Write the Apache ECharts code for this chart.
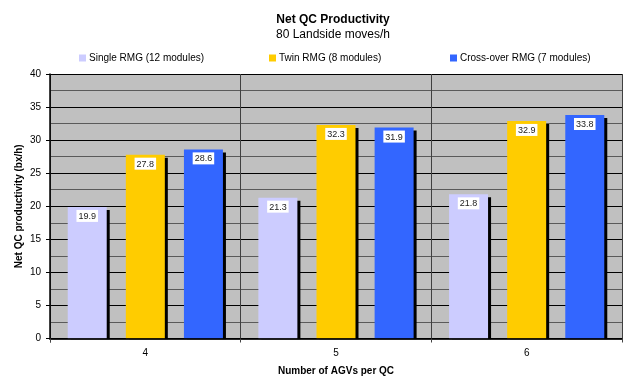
<!DOCTYPE html>
<html><head><meta charset="utf-8">
<script src="https://cdn.jsdelivr.net/npm/echarts@6/dist/echarts.min.js"></script>
<style>html,body{margin:0;padding:0;background:#fff}#c{width:623px;height:377px}</style>
</head><body><div id="c"></div>
<script>
const categories = ['4', '5', '6'];
const singleRMG = [19.9, 21.3, 21.8];
const twinRMG = [27.8, 32.3, 32.9];
const crossRMG = [28.6, 31.9, 33.8];
const seriesNames = ['Single RMG (12 modules)', 'Twin RMG (8 modules)', 'Cross-over RMG (7 modules)'];
const colors = ['#CCCCFF', '#FFCC00', '#3366FF'];
const FONT = 'Liberation Sans, Arial, sans-serif';

const chart = echarts.init(document.getElementById('c'), null, {renderer: 'canvas'});
function mkSeries(name, data, color) {
  return {
    name: name, type: 'bar', data: data, xAxisIndex: 0, barWidth: 39, barGap: '49%', z: 2,
    itemStyle: {color: color, shadowColor: '#000', shadowOffsetX: 3, shadowOffsetY: 3, shadowBlur: 0},
    label: {show: true, position: 'insideTop', distance: 3, color: '#222', fontSize: 9,
      fontFamily: FONT, backgroundColor: '#fff', padding: [2, 2, 1, 2],
      formatter: p => p.value.toFixed(1)}
  };
}
const legendPos = [79, 269, 450];
chart.setOption({
  animation: false,
  textStyle: {fontFamily: FONT},
  title: {
    text: 'Net QC Productivity', subtext: '80 Landside moves/h',
    left: 328, textAlign: 'center', top: 9, itemGap: 3,
    textStyle: {fontSize: 12, fontWeight: 'bold', color: '#000', fontFamily: FONT},
    subtextStyle: {fontSize: 12, color: '#000', fontFamily: FONT}
  },
  legend: seriesNames.map((n, i) => ({
    data: [n], left: legendPos[i], top: 53, padding: 0, icon: 'rect', itemWidth: 7, itemHeight: 7,
    itemGap: 0, textStyle: {fontSize: 10, color: '#000', fontFamily: FONT, padding: [0, 0, 0, -2]}
  })),
  grid: {left: 50, right: 1, top: 74, bottom: 38.5, show: true, backgroundColor: '#C0C0C0', borderWidth: 0,
    containLabel: false, outerBoundsMode: 'none'},
  graphic: [{
    type: 'rect', z: 5, silent: true,
    shape: {x: 51, y: 339.5, width: 572, height: 5},
    style: {fill: '#fff'}
  }],
  xAxis: [{
    type: 'category', data: categories, position: 'bottom',
    name: 'Number of AGVs per QC', nameLocation: 'middle', nameGap: 28, nameMoveOverlap: false,
    nameTextStyle: {fontSize: 10, fontWeight: 'bold', color: '#000', fontFamily: FONT},
    axisLine: {lineStyle: {color: '#000', width: 1.5}},
    axisTick: {show: true, length: 4, lineStyle: {color: '#444'}},
    axisLabel: {fontSize: 10, color: '#000', margin: 10, fontFamily: FONT},
    splitLine: {show: true, lineStyle: {color: '#404040', width: 1}}
  }, {
    type: 'category', data: categories, position: 'bottom', offset: 0, z: 10,
    axisLine: {lineStyle: {color: '#000', width: 1.5}},
    axisTick: {show: true, length: 4, lineStyle: {color: '#444'}},
    axisLabel: {show: false},
    splitLine: {show: false}
  }],
  yAxis: {
    type: 'value', min: 0, max: 40, interval: 5,
    name: 'Net QC productivity (bx/h)', nameLocation: 'middle', nameGap: 26, nameMoveOverlap: false,
    nameTextStyle: {fontSize: 10, fontWeight: 'bold', color: '#000', fontFamily: FONT},
    axisLine: {show: true, lineStyle: {color: '#000', width: 1.5}},
    axisTick: {show: true, length: 4, lineStyle: {color: '#000'}},
    axisLabel: {fontSize: 10, color: '#000', margin: 9, fontFamily: FONT},
    splitLine: {show: true, lineStyle: {color: '#000', width: 1}},
    minorTick: {show: false, splitNumber: 2},
    minorSplitLine: {show: true, lineStyle: {color: '#5a5a5a', width: 1}}
  },
  series: [
    mkSeries(seriesNames[0], singleRMG, colors[0]),
    mkSeries(seriesNames[1], twinRMG, colors[1]),
    mkSeries(seriesNames[2], crossRMG, colors[2])
  ]
});
</script></body></html>
